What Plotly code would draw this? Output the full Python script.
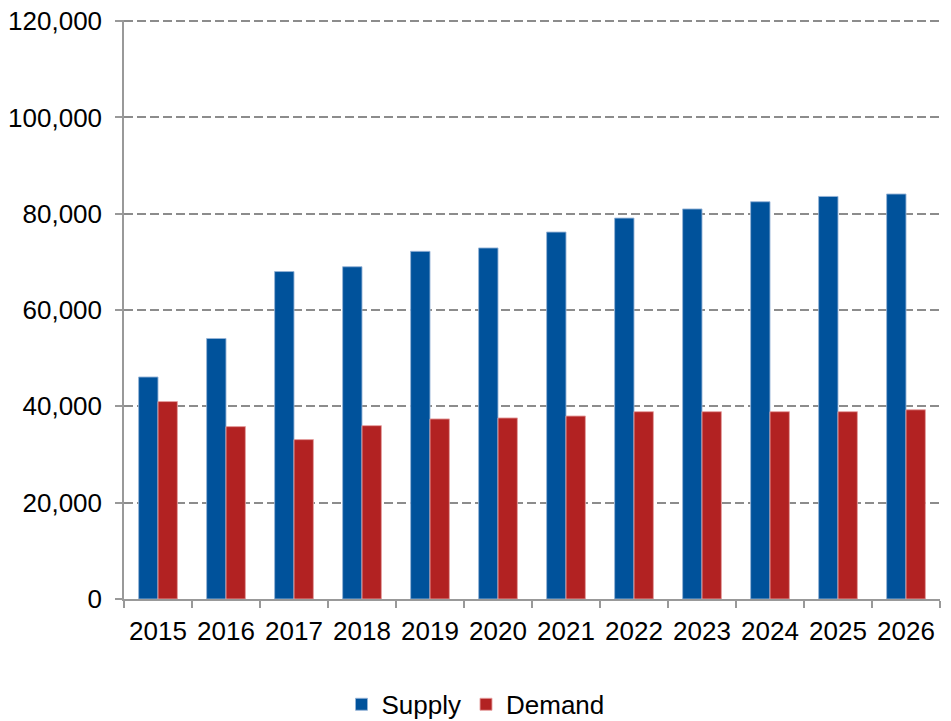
import plotly.graph_objects as go

years = ["2015", "2016", "2017", "2018", "2019", "2020", "2021", "2022", "2023", "2024", "2025", "2026"]
supply = [46100, 54100, 68000, 69000, 72200, 72900, 76200, 79100, 81000, 82500, 83600, 84100]
demand = [41000, 35800, 33100, 36000, 37400, 37600, 38000, 38900, 38900, 38900, 38900, 39300]
y_ticks = [0, 20000, 40000, 60000, 80000, 100000, 120000]

font_family = "Liberation Sans, Arial, sans-serif"

fig = go.Figure()
fig.add_trace(go.Bar(x=years, y=supply, name="Supply",
                     marker=dict(color="#00529B", line=dict(color="rgba(150,180,215,0.9)", width=1))))
fig.add_trace(go.Bar(x=years, y=demand, name="Demand",
                     marker=dict(color="#B22222", line=dict(color="rgba(230,160,160,0.9)", width=1))))

fig.update_layout(
    width=951, height=721,
    margin=dict(l=124, r=11, t=20, b=122, autoexpand=False),
    plot_bgcolor="white", paper_bgcolor="white",
    barmode="group", bargap=0.43, bargroupgap=0,
    font=dict(family=font_family, size=26, color="#000000"),
    showlegend=True,
    legend=dict(orientation="h", xref="container", x=0.5, xanchor="center",
                y=-0.182, yanchor="middle",
                font=dict(size=26), itemwidth=30, traceorder="normal"),
    xaxis=dict(
        showline=True, linecolor="#999999", linewidth=1.5,
        ticks="outside", ticklen=7, tickcolor="#999999", tickwidth=1.5,
        tickson="boundaries", showgrid=False,
        tickfont=dict(size=26), ticklabelstandoff=8,
    ),
    yaxis=dict(
        range=[0, 120240], tickvals=y_ticks, tickformat=",d",
        showline=True, linecolor="#999999", linewidth=1.5,
        ticks="outside", ticklen=7, tickcolor="#999999", tickwidth=1.5,
        showgrid=True, gridcolor="#8c8c8c", gridwidth=2, griddash="9px,4px",
        zeroline=False, tickfont=dict(size=26), ticklabelstandoff=8,
    ),
)

fig.write_html("out.html", config={"displayModeBar": False},
               post_script="document.body.style.margin='0px';")
